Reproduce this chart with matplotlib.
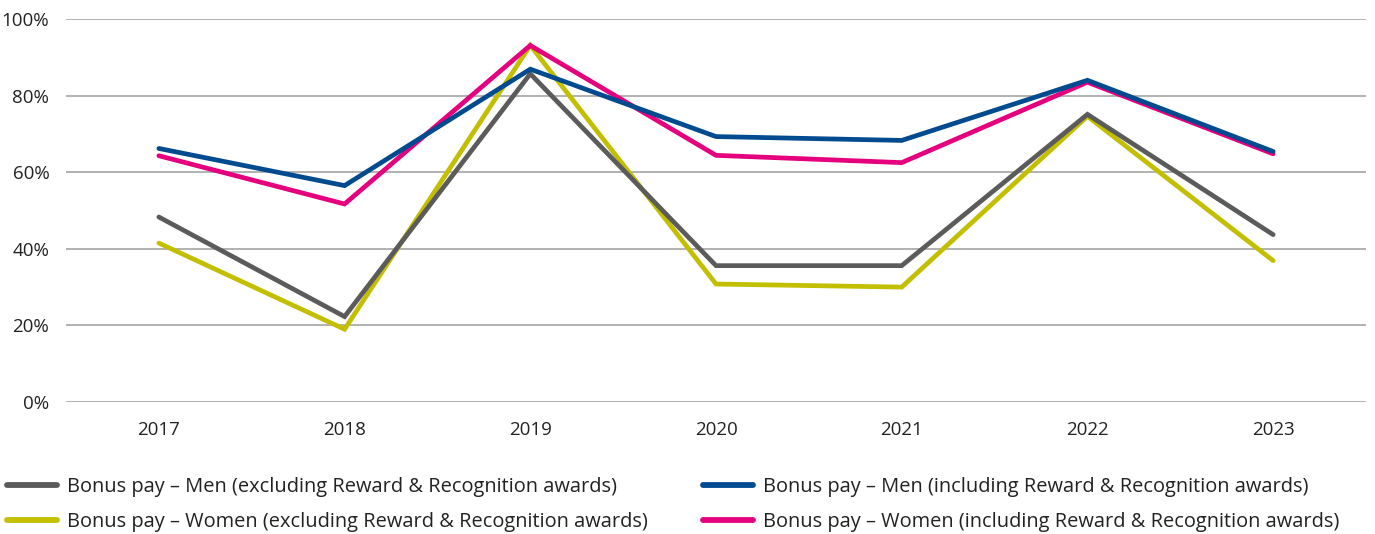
import matplotlib
matplotlib.use("Agg")
import matplotlib.pyplot as plt
from matplotlib.ticker import PercentFormatter

# -----------------------------------------
# Data
# -----------------------------------------
years = ["2017", "2018", "2019", "2020", "2021", "2022", "2023"]

men_excl = [48.3, 22.3, 85.7, 35.6, 35.6, 75.1, 43.7]
women_excl = [41.5, 19.0, 93.1, 30.8, 30.0, 74.6, 36.9]
men_incl = [66.2, 56.5, 86.9, 69.3, 68.3, 84.0, 65.4]
women_incl = [64.3, 51.7, 93.1, 64.4, 62.5, 83.5, 64.8]

labels = [
    "Bonus pay \u2013 Men (excluding Reward & Recognition awards)",
    "Bonus pay \u2013 Women (excluding Reward & Recognition awards)",
    "Bonus pay \u2013 Men (including Reward & Recognition awards)",
    "Bonus pay \u2013 Women (including Reward & Recognition awards)",
]
colors = ["#5b5b5b", "#c2bf00", "#004b8f", "#e5007d"]
series = [men_excl, women_excl, men_incl, women_incl]

plt.rcParams["font.family"] = ["Open Sans", "DejaVu Sans"]

fig = plt.figure(figsize=(13.75, 5.34), dpi=100)
ax = fig.add_axes([66 / 1375, 1 - 402 / 534, 1300 / 1375, (402 - 19) / 534])

x = list(range(len(years)))
# draw order: men incl on top of women incl in the reference
draw_order = [1, 0, 3, 2]
lines = {}
for i in draw_order:
    (ln,) = ax.plot(x, series[i], color=colors[i], lw=3.4,
                    solid_capstyle="round", solid_joinstyle="miter",
                    label=labels[i], zorder=3)
    lines[i] = ln

ax.set_xlim(-0.5, len(years) - 0.5)
ax.set_ylim(0, 100)
ax.set_yticks([0, 20, 40, 60, 80, 100])
ax.yaxis.set_major_formatter(PercentFormatter(decimals=0))
ax.set_xticks(x)
ax.set_xticklabels(years)
ax.tick_params(axis="both", length=0, labelsize=13.5, colors="#222222")
ax.tick_params(axis="y", pad=12)
ax.tick_params(axis="x", pad=14)

ax.grid(axis="y", color="#ababab", lw=1.3, zorder=0)
for s in ax.spines.values():
    s.set_visible(False)

leg = fig.legend([lines[i] for i in range(4)], labels, ncol=2,
                 loc="upper left", bbox_to_anchor=(1 / 1375, 1 - 471 / 534),
                 frameon=False, fontsize=14.4, handlelength=2.5,
                 handletextpad=0.5, columnspacing=2.75, labelspacing=0.74,
                 borderaxespad=0, borderpad=0.3, labelcolor="#222222")
for h in leg.legend_handles:
    h.set_linewidth(4.2)

fig.savefig("out.png", dpi=100, facecolor="white")
